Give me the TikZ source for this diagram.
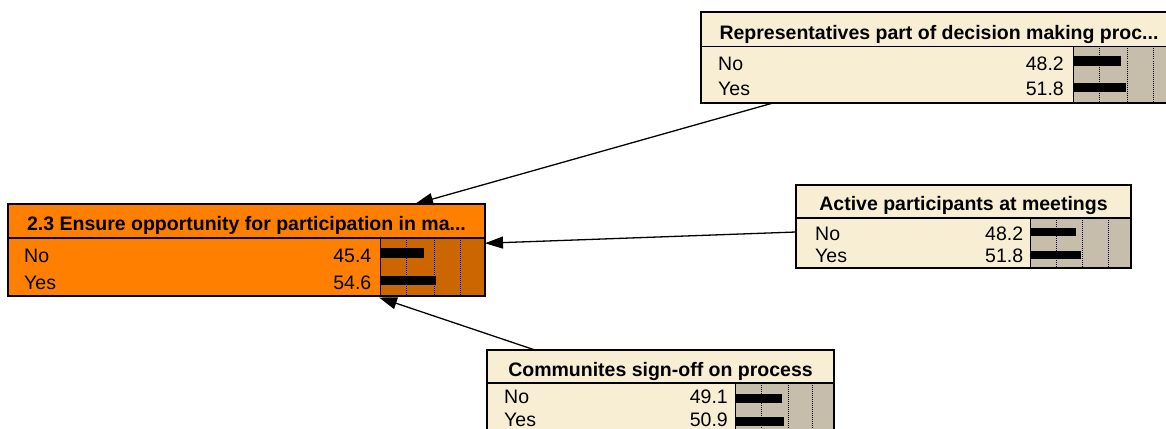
\documentclass[tikz,border=0pt]{standalone}
\usepackage{fontspec}
\setmainfont{Liberation Sans}
\usetikzlibrary{arrows.meta}
\definecolor{nodeorange}{RGB}{255,128,0}
\definecolor{barorange}{RGB}{204,102,0}
\definecolor{nodebeige}{RGB}{247,238,212}
\definecolor{bargray}{RGB}{198,190,170}
\tikzset{
  frame/.style={draw=black, line width=2pt, inner sep=0pt, outer sep=0pt, anchor=north west},
  divider/.style={line width=1.6pt},
  gridline/.style={line width=1pt, densely dotted},
  barsep/.style={line width=0.8pt},
  titletext/.style={font=\fontsize{19.5}{20}\selectfont\bfseries, inner sep=0pt, anchor=base},
  rowtext/.style={font=\fontsize{19.5}{20}\selectfont, inner sep=0pt},
  link/.style={line width=1.3pt, -{Triangle[length=18pt,width=12pt]}},
}
\begin{document}
\begin{tikzpicture}[x=1pt, y=-1pt]
\fill[white] (0,0) rectangle (1166,428);
\clip (0,0) rectangle (1166,428);

% ---- 2.3 Ensure opportunity for participation (orange, selected node)
\fill[nodeorange] (8,204) rectangle (485,295.5);
\fill[barorange] (380,238) rectangle (485,295.5);
\foreach \d in {26,54,80.7} \draw[gridline] (380+\d,238) -- (380+\d,295.5);
\fill (380,248.3) rectangle (424,258.3);
\fill (380,275.5) rectangle (436,285.2);
\draw[barsep] (380,238) -- (380,295.5);
\draw[divider] (8,238) -- (485,238);
\node[frame, minimum width=477pt, minimum height=91.5pt] (main) at (8,204) {};
\node[titletext] (mainTitle) at (246.5,230) {2.3 Ensure opportunity for participation in ma...};
\node[rowtext, anchor=base west] (mainNo) at (24,262.7) {No};
\node[rowtext, anchor=base east] (mainNoVal) at (371.5,262.7) {45.4};
\node[rowtext, anchor=base west] (mainYes) at (24,289.3) {Yes};
\node[rowtext, anchor=base east] (mainYesVal) at (371.5,289.3) {54.6};

% ---- Representatives part of decision making process
\fill[nodebeige] (701,12) rectangle (1177,103);
\fill[bargray] (1073,46.5) rectangle (1177,103);
\foreach \d in {26,54,80} \draw[gridline] (1073+\d,46.5) -- (1073+\d,103);
\fill (1073,56.3) rectangle (1121,66);
\fill (1073,82.5) rectangle (1126,92.3);
\draw[barsep] (1073,46.5) -- (1073,103);
\draw[divider] (701,46.5) -- (1177,46.5);
\node[frame, minimum width=476pt, minimum height=91pt] (rep) at (701,12) {};
\node[titletext] (repTitle) at (939,40) {Representatives part of decision making proc...};
\node[rowtext, anchor=base west] (repNo) at (718,70.7) {No};
\node[rowtext, anchor=base east] (repNoVal) at (1064,70.7) {48.2};
\node[rowtext, anchor=base west] (repYes) at (718,95.7) {Yes};
\node[rowtext, anchor=base east] (repYesVal) at (1064,95.7) {51.8};

% ---- Active participants at meetings
\fill[nodebeige] (796,185) rectangle (1131,268);
\fill[bargray] (1030,218) rectangle (1131,268);
\foreach \d in {26,52,78} \draw[gridline] (1030+\d,218) -- (1030+\d,268);
\fill (1030,227.5) rectangle (1076,236);
\fill (1030,250.7) rectangle (1081,259);
\draw[barsep] (1030,218) -- (1030,268);
\draw[divider] (796,218) -- (1131,218);
\node[frame, minimum width=335pt, minimum height=83pt] (act) at (796,185) {};
\node[titletext] (actTitle) at (963.5,210) {Active participants at meetings};
\node[rowtext, anchor=base west] (actNo) at (815,240) {No};
\node[rowtext, anchor=base east] (actNoVal) at (1023.3,240) {48.2};
\node[rowtext, anchor=base west] (actYes) at (815,262.7) {Yes};
\node[rowtext, anchor=base east] (actYesVal) at (1023.3,262.7) {51.8};

% ---- Communites sign-off on process
\fill[nodebeige] (487,350) rectangle (834,433);
\fill[bargray] (735,383) rectangle (834,433);
\foreach \d in {26,53,77} \draw[gridline] (735+\d,383) -- (735+\d,433);
\fill (735,394) rectangle (782,402.7);
\fill (735,417) rectangle (784,425.7);
\draw[barsep] (735,383) -- (735,433);
\draw[divider] (487,383) -- (834,383);
\node[frame, minimum width=347pt, minimum height=83pt] (com) at (487,350) {};
\node[titletext] (comTitle) at (660.5,376) {Communites sign-off on process};
\node[rowtext, anchor=base west] (comNo) at (504,403.3) {No};
\node[rowtext, anchor=base east] (comNoVal) at (728,403.3) {49.1};
\node[rowtext, anchor=base west] (comYes) at (504,426) {Yes};
\node[rowtext, anchor=base east] (comYesVal) at (728,426) {50.9};

% ---- links into the selected node
\draw[link] ([xshift=72pt]rep.south west) -- ([xshift=407pt]main.north west);
\draw[link] ([yshift=-5.5pt]act.west) -- ([yshift=6.5pt]main.east);
\draw[link] ([xshift=48pt]com.north west) -- ([xshift=371pt,yshift=-2pt]main.south west);
\end{tikzpicture}
\end{document}
